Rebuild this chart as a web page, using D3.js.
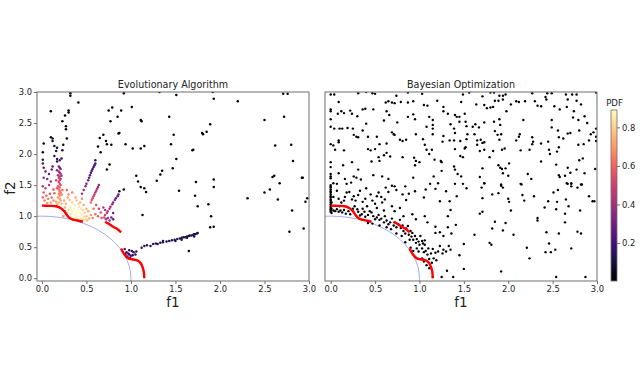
<!DOCTYPE html>
<html><head><meta charset="utf-8">
<script src="https://cdn.jsdelivr.net/npm/d3@7"></script>
<style>body{margin:0;background:#fff}svg{display:block;font-family:"DejaVu Sans",sans-serif}</style>
</head><body><svg id="c" width="640" height="384"></svg>
<script>
const titles = ["Evolutionary Algorithm", "Bayesian Optimization"];
const axisTicks = [0, 0.5, 1.0, 1.5, 2.0, 2.5, 3.0];
const cbTicks = [0.2, 0.4, 0.6, 0.8];
const pdfRange = [0.003, 0.89];

// Pareto front segments [f1, f2]
const frontSeg1 = [[0,1.17],[0.08,1.165],[0.16,1.16],[0.21,1.13],[0.25,1.08],[0.28,1.02],[0.31,0.97],[0.35,0.945],[0.40,0.93],[0.46,0.91]];
const frontSeg2 = [[0.71,0.91],[0.76,0.87],[0.80,0.83],[0.85,0.79],[0.89,0.74]];
const frontSeg3 = [[0.89,0.48],[0.91,0.42],[0.94,0.36],[0.97,0.32],[1.01,0.305],[1.05,0.295],[1.08,0.28],[1.11,0.24],[1.13,0.18],[1.145,0.10],[1.15,0.0]];

// Evolutionary algorithm: [f1, f2, pdf]
const eaDark = [[0.32,2.98,0.01],[0.32,2.94,0.01],[0.10,2.69,0.01],[0.30,2.70,0.01],[0.41,2.83,0.01],[0.23,2.53,0.01],[0.27,2.45,0.01],[0.27,2.40,0.01],[0.28,2.25,0.01],[0.26,2.62,0.01],[0.30,2.67,0.01],[0.02,2.17,0.03],[0.01,2.03,0.04],[0.63,2.12,0.01],[0.65,2.26,0.01],[0.69,2.31,0.01],[0.72,2.21,0.01],[0.75,2.70,0.01],[0.79,2.75,0.01],[0.77,2.53,0.01],[0.85,2.60,0.01],[0.89,2.70,0.01],[0.87,2.34,0.01],[0.73,2.16,0.01],[0.92,2.98,0.01],[1.01,2.76,0.01],[0.94,2.16,0.01],[1.02,2.09,0.01],[1.11,2.09,0.01],[1.15,2.13,0.01],[1.11,2.55,0.01],[1.12,2.53,0.01],[1.32,3.0,0.01],[1.51,2.95,0.01],[1.43,2.60,0.01],[1.48,2.31,0.01],[1.45,2.16,0.01],[1.51,1.92,0.01],[1.47,1.77,0.01],[1.06,1.65,0.01],[1.08,1.56,0.01],[1.11,1.47,0.01],[1.15,1.45,0.01],[1.17,1.39,0.01],[1.13,1.02,0.01],[1.29,1.57,0.01],[1.33,1.67,0.01],[1.35,1.73,0.01],[1.54,1.41,0.01],[1.72,1.33,0.01],[1.73,1.55,0.01],[1.75,1.16,0.01],[1.80,2.34,0.01],[1.81,2.32,0.01],[1.85,2.36,0.01],[1.89,2.48,0.01],[1.93,2.89,0.01],[1.92,3.0,0.01],[1.69,2.06,0.01],[1.70,2.07,0.01],[1.87,1.19,0.01],[1.90,1.00,0.01],[1.93,1.59,0.01],[1.93,1.47,0.01],[2.20,2.85,0.01],[2.31,1.29,0.01],[2.50,2.55,0.01],[2.50,1.38,0.01],[2.56,1.43,0.01],[2.59,1.63,0.01],[2.61,1.65,0.01],[2.62,2.14,0.01],[2.65,1.27,0.01],[2.67,1.53,0.01],[2.71,2.97,0.01],[2.76,2.97,0.01],[2.72,2.60,0.01],[2.80,2.15,0.01],[2.82,1.89,0.01],[2.78,0.75,0.01],[2.81,1.09,0.01],[2.92,1.62,0.01],[2.93,1.62,0.01],[2.94,0.80,0.01],[2.98,1.29,0.01],[2.96,1.23,0.01],[1.89,0.82,0.03],[1.93,0.83,0.03],[1.65,0.44,0.03],[0.76,1.83,0.02],[0.73,1.75,0.02],[0.86,2.33,0.01],[0.66,2.03,0.01],[0.78,2.15,0.01],[0.87,1.40,0.06],[0.92,1.43,0.05]];
const eaNavy = [[0.10,2.27,0.08],[0.12,2.25,0.08],[0.12,2.21,0.09],[0.14,2.13,0.1],[0.17,2.10,0.1],[0.24,2.15,0.06],[0.23,2.06,0.08],[0.01,1.91,0.12],[0.22,1.93,0.14],[0.17,1.88,0.16],[0.14,1.97,0.15],[0.16,2.05,0.12]];
const eaCluster = [
[0.01,1.85,0.2],[0.02,1.78,0.25],[0.04,1.72,0.3],[0.02,1.62,0.35],[0.06,1.60,0.35],[0.01,1.48,0.45],[0.04,1.45,0.5],[0.08,1.50,0.45],[0.10,1.56,0.4],[0.02,1.38,0.55],[0.05,1.33,0.6],[0.09,1.36,0.55],[0.01,1.30,0.6],[0.03,1.25,0.65],[0.07,1.28,0.65],[0.11,1.30,0.62],[0.06,1.21,0.7],[0.10,1.22,0.7],[0.13,1.25,0.68],[0.08,1.68,0.3],[0.11,1.75,0.28],[0.12,1.80,0.25],[0.13,1.43,0.55],[0.14,1.37,0.6],
[0.19,1.80,0.3],[0.20,1.78,0.32],[0.21,1.76,0.35],[0.19,1.72,0.38],[0.20,1.70,0.4],[0.21,1.68,0.4],[0.18,1.66,0.42],[0.20,1.64,0.45],[0.19,1.62,0.45],[0.21,1.60,0.48],[0.20,1.58,0.5],[0.19,1.55,0.52],[0.20,1.52,0.55],[0.21,1.50,0.55],[0.18,1.48,0.56],[0.20,1.46,0.58],[0.19,1.43,0.6],[0.20,1.40,0.62],[0.21,1.38,0.64],[0.19,1.36,0.65],[0.20,1.33,0.67],[0.18,1.30,0.7],[0.20,1.28,0.7],[0.21,1.25,0.72],[0.19,1.22,0.74],[0.22,1.20,0.75],[0.17,1.19,0.75],[0.16,1.23,0.72],[0.22,1.35,0.62],[0.17,1.45,0.58],[0.23,1.42,0.6],[0.16,1.58,0.5],[0.22,1.65,0.42],[0.17,1.74,0.35],[0.17,1.92,0.2],[0.20,1.90,0.22],
[0.28,1.05,0.78],[0.30,1.10,0.82],[0.32,1.15,0.85],[0.33,1.03,0.85],[0.35,1.08,0.88],[0.36,1.12,0.88],[0.37,1.18,0.85],[0.38,0.98,0.86],[0.39,1.05,0.89],[0.40,1.10,0.88],[0.41,1.00,0.88],[0.42,1.15,0.84],[0.43,1.06,0.87],[0.44,0.96,0.85],[0.45,1.02,0.86],[0.46,1.10,0.82],[0.47,0.99,0.83],[0.48,1.05,0.8],[0.49,0.95,0.8],[0.50,1.00,0.78],[0.52,1.08,0.72],[0.53,0.96,0.74],[0.34,1.22,0.8],[0.31,1.26,0.78],[0.27,1.20,0.75],[0.26,1.14,0.74],[0.29,1.30,0.72],[0.39,1.25,0.78],[0.43,1.22,0.76],[0.47,1.18,0.72],[0.36,0.96,0.84],[0.32,0.98,0.82],[0.55,1.02,0.7],[0.57,0.97,0.66],[0.42,0.93,0.82],[0.38,1.30,0.72],[0.45,1.28,0.68],[0.25,1.25,0.72],[0.30,1.35,0.68],[0.34,1.38,0.65],[0.28,1.42,0.6],[0.26,1.08,0.72],[0.24,1.00,0.7],[0.41,1.20,0.82],[0.37,1.02,0.89],[0.44,1.12,0.85],[0.50,1.12,0.74],[0.33,1.09,0.87],[0.40,0.95,0.85],[0.46,0.94,0.8],[0.51,0.93,0.76],
[0.60,1.90,0.16],[0.60,1.85,0.18],[0.59,1.82,0.2],[0.58,1.79,0.2],[0.57,1.76,0.22],[0.56,1.73,0.22],[0.55,1.70,0.24],[0.54,1.66,0.26],[0.53,1.62,0.28],[0.52,1.58,0.3],[0.50,1.52,0.32],[0.49,1.48,0.34],[0.47,1.42,0.38],[0.45,1.36,0.45],
[0.64,1.50,0.38],[0.63,1.47,0.4],[0.62,1.44,0.42],[0.61,1.41,0.44],[0.60,1.38,0.46],[0.59,1.35,0.48],[0.58,1.32,0.5],[0.57,1.29,0.52],[0.56,1.26,0.55],[0.55,1.22,0.6],
[0.86,1.35,0.25],[0.85,1.32,0.28],[0.83,1.29,0.3],[0.82,1.26,0.32],[0.80,1.22,0.35],[0.79,1.19,0.38],[0.77,1.15,0.4],[0.76,1.12,0.42],[0.74,1.08,0.45],[0.73,1.05,0.48],[0.71,1.02,0.5],[0.70,0.98,0.52],
[0.72,0.95,0.4],[0.74,0.97,0.38],[0.76,0.93,0.35],[0.78,0.98,0.3],[0.80,0.95,0.28],[0.71,1.10,0.4],[0.69,1.14,0.45],[0.80,1.05,0.3],
[0.60,1.03,0.6],[0.63,1.00,0.58],[0.66,1.06,0.55],[0.64,1.12,0.5],[0.67,0.97,0.55],[0.58,1.12,0.62],[0.61,1.18,0.55],
[0.93,0.47,0.2],[0.95,0.42,0.2],[0.97,0.40,0.18],[0.98,0.38,0.18],[1.00,0.36,0.17],[1.02,0.37,0.16],[1.05,0.38,0.15],[0.96,0.35,0.2],[0.99,0.33,0.18],[1.03,0.42,0.15],[1.06,0.43,0.14],[1.01,0.44,0.15],[0.94,0.39,0.22],[0.98,0.45,0.17],
[1.12,0.49,0.15],[1.15,0.52,0.15],[1.18,0.53,0.14],[1.22,0.52,0.14],[1.25,0.55,0.14],[1.28,0.56,0.14],[1.30,0.55,0.14],[1.33,0.57,0.13],[1.36,0.58,0.13],[1.40,0.59,0.13],[1.43,0.60,0.13],[1.46,0.61,0.13],[1.49,0.62,0.13],[1.52,0.63,0.13],[1.55,0.64,0.12],[1.57,0.65,0.12],[1.59,0.66,0.12],[1.61,0.66,0.12],[1.63,0.67,0.12],[1.65,0.68,0.12],[1.66,0.69,0.12],[1.68,0.69,0.12],[1.70,0.70,0.12],[1.71,0.71,0.12],[1.72,0.71,0.12],[1.74,0.72,0.11],[1.75,0.73,0.11],[1.36,0.60,0.13],[1.50,0.60,0.13],[1.57,0.62,0.12],[1.71,0.67,0.12],[1.63,0.65,0.12]];

// Bayesian optimization: [f1, f2]
const boPoints = [
[0.0,2.96],[0.04,2.96],[0.09,2.84],[0.0,2.72],[0.0,2.69],[0.31,2.98],[0.40,3.0],[0.47,2.98],[0.50,2.97],[0.74,2.94],[0.87,2.99],[1.03,2.97],[0.72,2.82],[0.65,2.85],[0.62,2.83],[0.69,2.83],[0.79,2.84],[0.87,2.83],[0.93,2.85],[1.05,2.79],[1.09,2.78],[1.20,2.86],[1.27,2.76],[1.27,2.69],[1.32,2.65],[1.40,2.63],[1.42,2.60],[1.45,2.60],
[0.0,2.56],[0.08,2.65],[0.12,2.69],[0.15,2.66],[0.22,2.70],[0.24,2.65],[0.30,2.61],[0.36,2.72],[0.39,2.73],[0.48,2.72],[0.63,2.69],[0.66,2.63],[0.60,2.54],[0.75,2.51],[0.87,2.60],[0.93,2.64],[0.95,2.56],[1.11,2.60],[1.15,2.55],[1.15,2.47],[1.15,2.41],[1.08,2.44],[1.35,2.48],[1.39,2.41],[1.40,2.34],[1.45,2.52],
[0.0,2.44],[0.04,2.41],[0.10,2.41],[0.13,2.41],[0.19,2.42],[0.25,2.41],[0.26,2.31],[0.29,2.28],[0.31,2.27],[0.36,2.38],[0.42,2.28],[0.40,2.49],[0.52,2.28],[0.69,2.35],[0.71,2.32],[0.72,2.31],[0.78,2.23],[0.85,2.23],[0.96,2.32],[1.04,2.24],[1.15,2.32],[1.27,2.29],[1.26,2.20],[1.34,2.22],[1.39,2.22],[1.46,2.21],
[0.0,2.16],[0.03,2.14],[0.09,2.22],[0.09,2.19],[0.15,2.06],[0.05,2.07],[0.42,2.08],[0.45,2.06],[0.50,2.08],[0.55,2.16],[0.63,2.17],[1.06,2.15],[1.08,2.07],[1.14,2.07],[0.81,2.21],[0.63,2.02],[0.60,1.98],[0.54,1.95],[0.67,1.96],[0.81,1.95],[0.94,1.94],[0.96,1.89],[0.95,1.82],[1.00,1.87],[1.11,2.00],[1.17,1.91],[1.24,1.89],[1.25,1.87],[1.40,2.08],[1.46,1.97],
[0.0,1.87],[0.0,1.79],[0.14,1.82],[0.24,1.87],[0.31,1.75],[0.46,1.88],[0.55,1.89],[0.0,1.68],[0.0,1.64],[0.0,1.61],[0.09,1.69],[0.16,1.60],[0.23,1.54],[0.26,1.64],[0.29,1.62],[0.34,1.59],[0.48,1.66],[0.58,1.64],[0.65,1.60],[0.93,1.62],[1.16,1.64],[1.25,1.73],[1.39,1.80],[1.40,1.75],[1.43,1.68],[1.47,1.64],[0.03,1.53],[0.07,1.52],[0.18,1.52],[1.21,1.53],[1.40,1.52],
[1.49,2.96],[1.56,2.99],[1.71,2.93],[1.80,2.99],[1.84,2.99],[1.90,2.94],[1.94,2.94],[1.97,2.96],[2.27,2.98],[2.44,2.98],[2.49,2.98],[2.65,2.96],[2.72,2.96],[2.77,2.96],[2.99,2.99],
[1.47,2.84],[1.64,2.80],[1.73,2.79],[1.76,2.74],[1.80,2.75],[1.83,2.76],[1.85,2.86],[1.89,2.86],[1.94,2.88],[2.03,2.80],[2.09,2.85],[2.12,2.84],[2.19,2.85],[2.30,2.85],[2.33,2.78],[2.37,2.77],[2.42,2.92],[2.43,2.88],[2.52,2.77],[2.58,2.72],[2.67,2.88],[2.66,2.76],[2.77,2.86],[2.82,2.80],[2.74,2.69],
[1.51,2.65],[1.98,2.69],[1.52,2.52],[1.53,2.45],[1.60,2.44],[1.63,2.48],[1.67,2.43],[1.73,2.51],[1.84,2.52],[1.91,2.47],[1.90,2.56],[2.17,2.55],[2.49,2.55],[2.49,2.43],[2.56,2.38],[2.73,2.59],[2.79,2.55],[2.86,2.61],[2.89,2.50],[2.93,2.32],[2.96,2.35],[2.99,2.41],[2.80,2.38],[2.70,2.34],[2.62,2.25],[2.57,2.27],[2.67,2.33],
[1.54,2.32],[1.53,2.24],[1.62,2.32],[1.65,2.22],[1.69,2.23],[1.71,2.18],[1.73,2.19],[1.65,2.15],[1.52,2.11],[1.51,2.09],[1.68,2.05],[1.73,2.07],[1.83,2.05],[1.85,2.37],[1.88,2.31],[1.92,2.32],[1.90,2.23],[1.93,2.07],[1.96,2.09],[2.13,2.32],[2.12,2.28],[2.09,2.22],[2.27,2.27],[2.28,2.20],[2.27,2.16],[2.37,2.17],[2.45,2.20],[2.46,2.07],[2.55,2.04],[2.57,2.11],[2.47,2.00],[2.14,2.06],[2.24,2.07],[2.79,2.15],[2.85,2.16],[2.91,2.22],[2.99,2.21],[2.99,2.28],
[1.49,1.95],[1.79,1.95],[1.89,1.82],[1.91,1.78],[1.93,1.76],[1.97,1.77],[2.01,1.85],[1.94,1.69],[2.00,1.65],[1.71,1.77],[1.68,1.63],[1.73,1.53],[2.14,1.52],[2.22,1.68],[2.26,1.60],[2.37,1.88],[2.54,1.83],[2.67,1.78],[2.57,1.66],[2.58,1.63],[2.64,1.65],[2.70,1.70],[2.77,1.75],[2.80,1.90],[2.84,1.93],[2.86,1.69],[2.98,1.76],[2.66,1.53],[2.71,1.53],[2.82,1.51],[1.92,1.51],
[0,1.50],[0,1.48],[0,1.46],[0,1.43],[0,1.40],[0,1.38],[0,1.35],[0,1.32],[0,1.30],[0,1.27],[0,1.25],[0,1.22],[0,1.19],[0,1.16],[0,1.13],[0,1.11],[0,1.09],[0,1.07],[0.01,1.05],
[0.01,1.22],[0.03,1.31],[0.07,1.41],[0.09,1.28],[0.10,1.16],[0.12,1.22],[0.15,1.25],[0.16,1.31],[0.18,1.38],[0.21,1.39],[0.24,1.27],[0.26,1.32],[0.28,1.25],[0.31,1.34],[0.33,1.41],[0.36,1.23],[0.39,1.28],[0.41,1.16],[0.40,1.45],[0.45,1.35],[0.47,1.25],[0.50,1.20],[0.52,1.32],[0.54,1.38],[0.57,1.31],[0.58,1.22],[0.61,1.27],[0.62,1.46],[0.65,1.39],[0.69,1.49],[0.72,1.48],[0.74,1.42],[0.81,1.35],[0.84,1.48],[0.85,1.26],[0.88,1.36],[0.95,1.40],[1.05,1.30],[1.07,1.43],[1.12,1.52],[1.18,1.44],[1.23,1.24],[1.30,1.40],[1.34,1.24],[1.35,1.10],[1.42,1.32],
[0.01,1.12],[0.03,1.09],[0.05,1.08],[0.07,1.11],[0.09,1.07],[0.11,1.09],[0.13,1.06],[0.15,1.10],[0.17,1.04],[0.20,1.08],[0.22,1.03],[0.25,1.12],[0.27,1.16],[0.30,1.11],[0.31,1.07],[0.33,1.01],[0.35,1.03],[0.36,1.12],[0.38,1.07],[0.39,0.99],[0.42,1.02],[0.44,1.08],[0.46,1.06],[0.48,1.00],[0.50,0.95],[0.52,0.98],[0.54,1.02],[0.55,0.94],[0.57,0.96],[0.60,0.90],[0.61,1.00],[0.63,0.93],[0.65,0.87],[0.67,0.90],[0.69,0.96],[0.71,0.85],[0.72,0.90],[0.74,0.82],[0.76,0.87],[0.78,0.94],[0.79,0.81],[0.81,0.85],[0.82,0.76],[0.84,0.72],[0.85,0.80],[0.87,0.84],[0.88,0.70],[0.90,0.76],[0.91,0.67],[0.92,0.73],[0.93,0.62],[0.95,0.68],[0.96,0.57],[0.97,0.63],[0.99,0.59],[1.00,0.54],[1.01,0.68],[1.03,0.60],[1.04,0.56],[1.03,0.48],[1.06,0.61],[1.06,0.54],[1.05,0.42],[1.07,0.44],[1.09,0.38],[1.10,0.48],[1.11,0.31],[1.13,0.40],[1.14,0.25],[1.15,0.47],[1.16,0.32],[1.18,0.41],[1.19,0.29],[1.21,0.43],[1.23,0.52],[1.26,0.40],[1.27,0.46],[1.30,0.43],[1.33,0.52],[1.35,0.46],[1.18,0.73],[1.18,0.83],[1.23,0.74],[1.06,1.00],[1.09,0.90],[0.92,1.03],[0.96,0.95],[0.82,1.00],[0.72,1.08],[0.78,1.13],[0.69,1.16],[0.52,1.13],[0.60,1.09],[0.42,0.89],[0.47,0.88],[0.55,0.85],[0.63,0.82],[0.68,0.79],[0.74,0.72],[0.80,0.68],[0.84,0.58],[0.89,0.62],[0.90,0.49],[0.93,0.44],[0.97,0.48],[0.99,0.43],[1.03,0.32],[1.08,0.21],[1.11,0.16],[1.05,0.27],[1.31,0.12],[1.15,0.02],[1.25,0.02],[1.38,0.02],[1.50,0.15],[1.45,0.37],[1.36,0.72],[1.32,0.82],[1.32,1.00],[1.41,0.86],[1.27,0.68],
[1.49,1.52],[1.53,1.45],[1.70,1.46],[1.73,1.53],[1.92,1.49],[1.94,1.46],[2.15,1.51],[1.82,1.35],[1.89,1.37],[2.00,1.28],[2.01,1.23],[2.16,1.34],[2.18,1.25],[2.29,1.32],[1.71,1.29],[1.68,1.04],[1.71,1.07],[2.03,1.09],[1.85,0.91],[1.97,0.89],[1.82,0.80],[1.94,0.77],[2.06,0.70],[1.62,0.70],[1.50,0.55],[1.79,0.57],[1.81,0.54],[2.33,0.97],[2.33,0.93],[2.51,1.38],[2.56,1.42],[2.67,1.52],[2.71,1.52],[2.71,1.48],[2.78,1.46],[2.83,1.51],[2.91,1.32],[2.95,1.24],[2.97,1.24],[2.65,1.27],[2.55,1.23],[2.45,1.24],[2.41,1.14],[2.54,1.11],[2.68,1.16],[2.81,1.09],[2.64,1.04],[2.64,0.90],[2.43,0.74],[2.57,0.72],[2.78,0.75],[2.82,0.72],[2.46,0.56],[2.53,0.46],[2.42,0.42],[2.48,0.42],[2.71,0.48],[2.21,0.49],[2.24,0.32],[1.92,0.11],[2.54,0.02],[2.87,0.02]];

const svg = d3.select("#c");
const color = d3.scaleSequential(d3.interpolateMagma).domain(pdfRange);
const yScale = d3.scaleLinear().domain([-0.045, 3.0]).range([281, 92]);
const panels = [
  {x: d3.scaleLinear().domain([-0.055, 3.0]).range([37, 309]), title: titles[0], showY: true, id: "a"},
  {x: d3.scaleLinear().domain([-0.064, 3.0]).range([325, 597]), title: titles[1], showY: false, id: "b"}
];
const fontTick = 8.4;
const spine = "#6e6e6e";

panels.forEach((p, i) => {
  const x = p.x, y = yScale;
  const [x0, x1] = x.range(), [yb, yt] = y.range();
  const defs = svg.append("defs");
  defs.append("clipPath").attr("id", "clip" + p.id).append("rect")
    .attr("x", x0).attr("y", yt).attr("width", x1 - x0).attr("height", yb - yt);
  const g = svg.append("g");
  const plot = g.append("g").attr("clip-path", `url(#clip${p.id})`);
  // reference unit circle
  plot.append("ellipse").attr("cx", x(0)).attr("cy", y(0))
    .attr("rx", x(1) - x(0)).attr("ry", y(0) - y(1))
    .attr("fill", "none").attr("stroke", "#a3aaf6").attr("stroke-width", 1);
  if (i === 0) {
    const all = eaDark.concat(eaNavy, eaCluster);
    plot.selectAll("circle.pt").data(all).join("circle").attr("class", "pt")
      .attr("cx", d => x(d[0])).attr("cy", d => y(d[1])).attr("r", 1.25)
      .attr("fill", d => color(d[2]));
  } else {
    plot.selectAll("circle.pt").data(boPoints).join("circle").attr("class", "pt")
      .attr("cx", d => x(d[0])).attr("cy", d => y(d[1])).attr("r", 1.2)
      .attr("fill", color(pdfRange[0]));
  }
  const line = d3.line().x(d => x(d[0])).y(d => y(d[1])).curve(d3.curveCatmullRom);
  [frontSeg1, frontSeg2, frontSeg3].forEach(s => {
    plot.append("path").attr("d", line(s)).attr("fill", "none")
      .attr("stroke", "#ff0000").attr("stroke-width", 2.4).attr("stroke-linecap", "butt");
  });
  // frame
  g.append("rect").attr("x", x0).attr("y", yt).attr("width", x1 - x0).attr("height", yb - yt)
    .attr("fill", "none").attr("stroke", spine).attr("stroke-width", 1);
  // x axis
  const xa = g.append("g").attr("transform", `translate(0,${yb})`)
    .call(d3.axisBottom(x).tickValues(axisTicks).tickFormat(d3.format(".1f")).tickSize(3).tickPadding(2));
  xa.select(".domain").remove();
  xa.selectAll("line").attr("stroke", spine);
  xa.selectAll("text").attr("font-size", fontTick).attr("fill", "#222").attr("font-family", "DejaVu Sans");
  if (p.showY) {
    const ya = g.append("g").attr("transform", `translate(${x0},0)`)
      .call(d3.axisLeft(y).tickValues(axisTicks).tickFormat(d3.format(".1f")).tickSize(3).tickPadding(2));
    ya.select(".domain").remove();
    ya.selectAll("line").attr("stroke", spine);
    ya.selectAll("text").attr("font-size", fontTick).attr("fill", "#222").attr("font-family", "DejaVu Sans");
  }
  g.append("text").attr("x", (x0 + x1) / 2).attr("y", 88).attr("text-anchor", "middle")
    .attr("font-size", 9.6).attr("fill", "#222").text(p.title);
  g.append("text").attr("x", (x0 + x1) / 2).attr("y", 307).attr("text-anchor", "middle")
    .attr("font-size", 13.5).attr("fill", "#222").text("f1");
});
svg.append("text").attr("transform", "translate(15,188) rotate(-90)").attr("text-anchor", "middle")
  .attr("font-size", 13.5).attr("fill", "#222").text("f2");

// colorbar
const cb = {x: 611, w: 6, top: 110, bottom: 281};
const cbScale = d3.scaleLinear().domain(pdfRange).range([cb.bottom, cb.top]);
const grad = svg.append("defs").append("linearGradient").attr("id", "cbg")
  .attr("x1", 0).attr("y1", 1).attr("x2", 0).attr("y2", 0);
d3.range(0, 1.0001, 0.05).forEach(t => {
  grad.append("stop").attr("offset", t).attr("stop-color", d3.interpolateMagma(t));
});
svg.append("rect").attr("x", cb.x).attr("y", cb.top).attr("width", cb.w).attr("height", cb.bottom - cb.top)
  .attr("fill", "url(#cbg)").attr("stroke", spine).attr("stroke-width", 0.8);
const ca = svg.append("g").attr("transform", `translate(${cb.x + cb.w},0)`)
  .call(d3.axisRight(cbScale).tickValues(cbTicks).tickFormat(d3.format(".1f")).tickSize(3).tickPadding(2));
ca.select(".domain").remove();
ca.selectAll("line").attr("stroke", spine);
ca.selectAll("text").attr("font-size", fontTick).attr("fill", "#222").attr("font-family", "DejaVu Sans");
svg.append("text").attr("x", cb.x + cb.w / 2 + 0.5).attr("y", 106).attr("text-anchor", "middle")
  .attr("font-size", 8.6).attr("fill", "#222").text("PDF");
</script></body></html>
